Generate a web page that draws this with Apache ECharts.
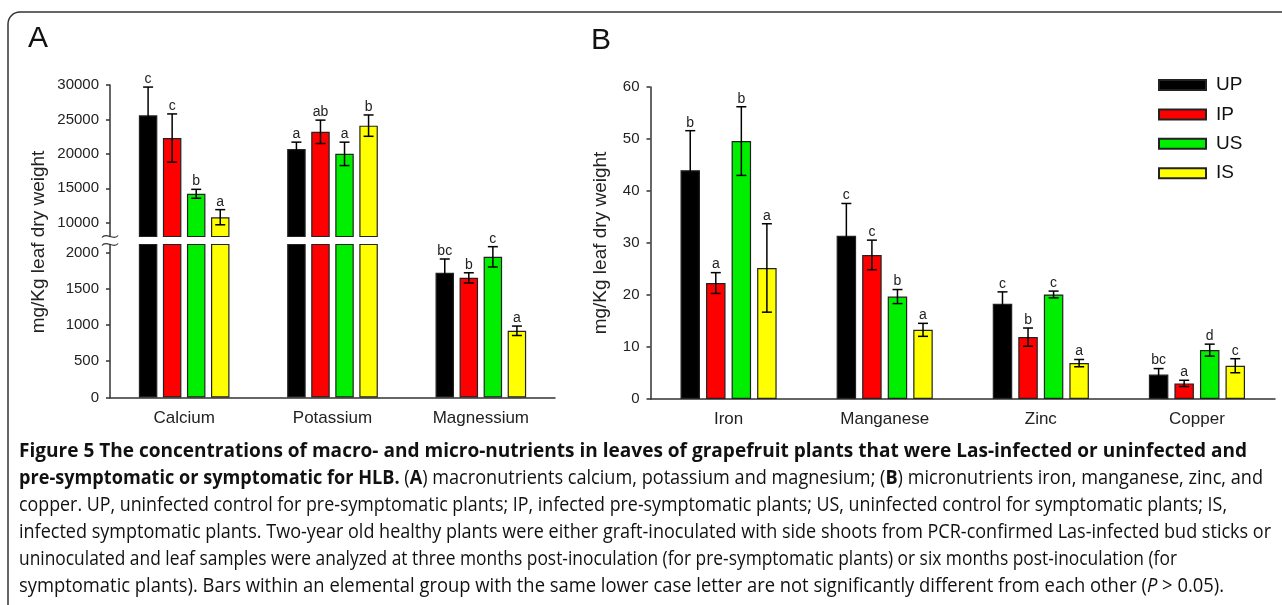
<!DOCTYPE html>
<html>
<head>
<meta charset="utf-8">
<title>Figure 5</title>
<script src="https://cdn.jsdelivr.net/npm/echarts@6/dist/echarts.min.js"></script>
<style>
    html, body { margin: 0; padding: 0; background: #fff; }
    #chart { width: 1282px; height: 605px; }
</style>
</head>
<body>
<div id="chart"></div>
<script>
// treatment groups
let groupNames = ['UP', 'IP', 'US', 'IS'];
let groupColors = ['#000000', '#ff0000', '#00ee00', '#ffff00'];

// panel A - macronutrients, mg/Kg (rows follow groupNames)
let macroNames = ['Calcium', 'Potassium', 'Magnessium'];
let macroMean = [
    [25600, 20700, 1720],
    [22300, 23200, 1650],
    [14200, 20000, 1940],
    [10800, 24100, 920]
];
let macroSD = [
    [4100, 1000, 190],
    [3500, 1700, 70],
    [650, 1700, 140],
    [1100, 1550, 65]
];
let macroLetters = [
    ['c', 'a', 'bc'],
    ['c', 'ab', 'b'],
    ['b', 'a', 'c'],
    ['a', 'b', 'a']
];
let macroUpperTicks = [10000, 15000, 20000, 25000, 30000];
let macroLowerTicks = [0, 500, 1000, 1500, 2000];

// panel B - micronutrients, mg/Kg
let microNames = ['Iron', 'Manganese', 'Zinc', 'Copper'];
let microMean = [
    [44.0, 31.4, 18.3, 4.7],
    [22.3, 27.7, 11.9, 3.0],
    [49.6, 19.7, 20.1, 9.4],
    [25.2, 13.3, 6.9, 6.4]
];
let microSD = [
    [7.6, 6.2, 2.3, 1.15],
    [2.0, 2.85, 1.75, 0.6],
    [6.6, 1.35, 0.65, 1.15],
    [8.5, 1.25, 0.7, 1.35]
];
let microLetters = [
    ['b', 'c', 'c', 'bc'],
    ['a', 'c', 'b', 'a'],
    ['b', 'b', 'c', 'd'],
    ['a', 'a', 'a', 'c']
];
let microTicks = [0, 10, 20, 30, 40, 50, 60];

let font = 'Liberation Sans';
let axisColor = '#333';
let upperMin = 8000;   // bottom of the broken (upper) part of axis A
let lowerMax = 2110;   // top of the lower part of axis A

// caption lines: [style, text] segments
let capLines = [
    [['b', 'Figure 5 The concentrations of macro- and micro-nutrients in leaves of grapefruit plants that were Las-infected or uninfected and']],
    [['b', 'pre-symptomatic or symptomatic for HLB.'], ['n', ' ('], ['b', 'A'], ['n', ') macronutrients calcium, potassium and magnesium; ('], ['b', 'B'], ['n', ') micronutrients iron, manganese, zinc, and']],
    [['n', 'copper. UP, uninfected control for pre-symptomatic plants; IP, infected pre-symptomatic plants; US, uninfected control for symptomatic plants; IS,']],
    [['n', 'infected symptomatic plants. Two-year old healthy plants were either graft-inoculated with side shoots from PCR-confirmed Las-infected bud sticks or']],
    [['n', 'uninoculated and leaf samples were analyzed at three months post-inoculation (for pre-symptomatic plants) or six months post-inoculation (for']],
    [['n', 'symptomatic plants). Bars within an elemental group with the same lower case letter are not significantly different from each other ('], ['i', 'P'], ['n', ' > 0.05).']]
];
let capRight = [1247, 1263, 1227, 1271, 1177, 1224];

let myChart = echarts.init(document.getElementById('chart'));

// error bars + significance letters, drawn in a custom series
function errorSeries(xi, yi, means, sds, letters, pitch, keep) {
    let items = [];
    means.forEach(function (row, g) {
        row.forEach(function (v, c) {
            if (keep(v)) {
                items.push({ value: [c, g, v, sds[g][c]], letter: letters[g][c] });
            }
        });
    });
    return {
        type: 'custom',
        xAxisIndex: xi,
        yAxisIndex: yi,
        z: 5,
        silent: true,
        encode: { x: 0, y: 2 },
        data: items.map(function (d) { return d.value; }),
        renderItem: function (params, api) {
            let it = items[params.dataIndex];
            let c = api.value(0), g = api.value(1), m = api.value(2), sd = api.value(3);
            let x = api.coord([c, m])[0] + (g - 1.5) * pitch;
            let hi = api.coord([c, m + sd])[1];
            let lo = api.coord([c, m - sd])[1];
            let ls = { stroke: '#000', lineWidth: 1.5 };
            return {
                type: 'group',
                children: [
                    { type: 'line', shape: { x1: x, y1: hi, x2: x, y2: lo }, style: ls },
                    { type: 'line', shape: { x1: x - 5, y1: hi, x2: x + 5, y2: hi }, style: ls },
                    { type: 'line', shape: { x1: x - 5, y1: lo, x2: x + 5, y2: lo }, style: ls },
                    {
                        type: 'text', x: x, y: hi - 1,
                        style: {
                            text: it.letter, align: 'center', verticalAlign: 'bottom',
                            fontSize: 14, fontFamily: font, fill: '#222'
                        }
                    }
                ]
            };
        }
    };
}

function valueAxis(grid, min, max, ticks, extra) {
    return Object.assign({
        type: 'value',
        gridIndex: grid,
        min: min,
        max: max,
        axisLine: { show: true, lineStyle: { color: axisColor, width: 1.5 } },
        axisTick: { show: true, length: 4, inside: false, customValues: ticks, lineStyle: { color: axisColor, width: 1.5 } },
        axisLabel: {
            customValues: ticks, fontSize: 15, color: '#222', fontFamily: font, margin: 11,
            formatter: function (v) { return String(v); }
        },
        splitLine: { show: false }
    }, extra || {});
}

function categoryAxis(grid, names, show) {
    return {
        type: 'category',
        gridIndex: grid,
        data: names,
        show: show,
        axisLine: { lineStyle: { color: axisColor, width: 1.5 } },
        axisTick: { show: false },
        axisLabel: { fontSize: 17, color: '#222', fontFamily: font, margin: 12 }
    };
}

let series = [];
groupNames.forEach(function (name, g) {
    let style = { color: groupColors[g], borderColor: '#222', borderWidth: 1.2 };
    series.push({
        name: name, type: 'bar', xAxisIndex: 0, yAxisIndex: 0,
        barWidth: 18.5, barGap: '30%', itemStyle: style,
        data: macroMean[g].map(function (v) { return v >= upperMin ? v : '-'; })
    });
    series.push({
        name: name, type: 'bar', xAxisIndex: 1, yAxisIndex: 1,
        barWidth: 18.5, barGap: '30%', itemStyle: style,
        data: macroMean[g]
    });
    series.push({
        name: name, type: 'bar', xAxisIndex: 2, yAxisIndex: 2,
        barWidth: 19.5, barGap: '31%', itemStyle: style,
        data: microMean[g]
    });
});
series.push(errorSeries(0, 0, macroMean, macroSD, macroLetters, 24.05, function (v) { return v >= upperMin; }));
series.push(errorSeries(1, 1, macroMean, macroSD, macroLetters, 24.05, function (v) { return v < lowerMax; }));
series.push(errorSeries(2, 2, microMean, microSD, microLetters, 25.55, function () { return true; }));

// caption, condensed to the original line lengths
let measure = document.createElement('canvas').getContext('2d');
let capFonts = {
    b: { fontFamily: 'Open Sans', fontSize: 19.5, fontWeight: 'bold', fontStyle: 'normal', fill: '#111' },
    n: { fontFamily: 'Open Sans', fontSize: 19.5, fontWeight: 'normal', fontStyle: 'normal', fill: '#111' },
    i: { fontFamily: 'Open Sans', fontSize: 19.5, fontWeight: 'normal', fontStyle: 'italic', fill: '#111' }
};
let captionEls = capLines.map(function (segs, k) {
    let w = 0;
    segs.forEach(function (s) {
        let f = capFonts[s[0]];
        measure.font = f.fontStyle + ' ' + f.fontWeight + ' ' + f.fontSize + 'px "' + f.fontFamily + '"';
        w += measure.measureText(s[1]).width;
    });
    return {
        type: 'text',
        x: 19,
        y: 451 + k * 27,
        scaleX: (capRight[k] - 19) / w,
        style: {
            text: segs.map(function (s) { return '{' + s[0] + '|' + s[1] + '}'; }).join(''),
            rich: capFonts,
            align: 'left',
            verticalAlign: 'middle'
        }
    };
});

function squiggle(y) {
    return {
        type: 'bezierCurve',
        shape: { x1: 102, y1: y + 1, cpx1: 106, cpy1: y - 5, cpx2: 114, cpy2: y + 5, x2: 118, y2: y - 1 },
        style: { stroke: axisColor, lineWidth: 1.2, fill: null }
    };
}

let option = {
    animation: false,
    textStyle: { fontFamily: font },
    legend: {
        data: groupNames,
        orient: 'vertical',
        left: 1153,
        top: 70.5,
        icon: 'rect',
        itemWidth: 47,
        itemHeight: 10,
        itemGap: 10.4,
        textStyle: { fontSize: 19, color: '#111', lineHeight: 19, padding: [0, 0, 0, 5], fontFamily: font }
    },
    grid: [
        { left: 110, width: 445, top: 85, height: 151.5 },
        { left: 110, width: 445, top: 244.5, height: 153 },
        { left: 650.5, width: 624.5, top: 87, height: 312 }
    ],
    xAxis: [
        categoryAxis(0, macroNames, false),
        categoryAxis(1, macroNames, true),
        categoryAxis(2, microNames, true)
    ],
    yAxis: [
        valueAxis(0, upperMin, 30000, macroUpperTicks),
        valueAxis(1, 0, lowerMax, macroLowerTicks),
        valueAxis(2, 0, 60, microTicks, {
            name: 'mg/Kg leaf dry weight',
            nameLocation: 'middle',
            nameGap: 40,
            nameTextStyle: { fontSize: 19, color: '#222', fontFamily: font }
        })
    ],
    series: series,
    graphic: [
        {
            type: 'rect', silent: true,
            shape: { x: 8, y: 12, width: 1300, height: 620, r: 12 },
            style: { fill: null, stroke: '#333', lineWidth: 1.5 }
        },
        { type: 'text', x: 28, y: 39, style: { text: 'A', fontSize: 30, fontFamily: font, fill: '#111', verticalAlign: 'middle' } },
        { type: 'text', x: 591, y: 40.5, style: { text: 'B', fontSize: 30, fontFamily: font, fill: '#111', verticalAlign: 'middle' } },
        {
            type: 'text', x: 39, y: 242, rotation: Math.PI / 2,
            style: { text: 'mg/Kg leaf dry weight', fontSize: 19, fontFamily: font, fill: '#222', align: 'center', verticalAlign: 'middle' }
        },
        squiggle(236.5),
        squiggle(244.5)
    ].concat(captionEls)
};

myChart.setOption(option);
</script>
</body>
</html>
